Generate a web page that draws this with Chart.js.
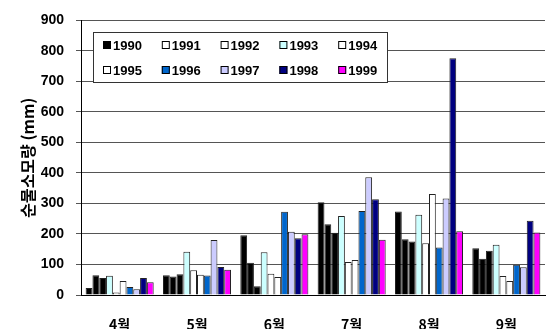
<!DOCTYPE html>
<html>
<head>
<meta charset="utf-8">
<script src="https://cdn.jsdelivr.net/npm/chart.js@4/dist/chart.umd.min.js"></script>
<style>
  body { margin: 0; background: #fff; }
</style>
</head>
<body>
<canvas id="rainChart" width="547" height="329"></canvas>
<script>
const months = ['4월', '5월', '6월', '7월', '8월', '9월'];
const years = ['1990', '1991', '1992', '1993', '1994', '1995', '1996', '1997', '1998', '1999'];

// one array per year, values for Apr..Sep (mm)
const y1990 = [23, 65, 196, 304, 274, 153];
const y1991 = [65, 61, 106, 232, 183, 119];
const y1992 = [56, 68, 29, 204, 175, 145];
const y1993 = [63, 142, 140, 259, 263, 165];
const y1994 = [8, 81, 70, 108, 170, 62];
const y1995 = [46, 66, 59, 115, 331, 46];
const y1996 = [26, 64, 273, 275, 156, 99];
const y1997 = [19, 180, 207, 386, 316, 91];
const y1998 = [56, 92, 186, 314, 776, 243];
const y1999 = [42, 83, 199, 181, 209, 205];

const yTicks = [0, 100, 200, 300, 400, 500, 600, 700, 800, 900];

const barColors = ['#000000', '#000000', '#000000', '#CCFFFF', '#FFFFFF', '#FFFFFF', '#0066CC', '#CCCCFF', '#000080', '#FF00FF'];
const legendColors = ['#000000', '#FFFFFF', '#FFFFFF', '#CCFFFF', '#FFFFFF', '#FFFFFF', '#0066CC', '#CCCCFF', '#000080', '#FF00FF'];

const series = [y1990, y1991, y1992, y1993, y1994, y1995, y1996, y1997, y1998, y1999];

// legend box drawn inside the plot like the original
const boxLegend = {
  id: 'boxLegend',
  afterDraw(chart) {
    const c = chart.ctx;
    const x0 = 93, y0 = 32, w = 294, h = 50;
    c.save();
    c.fillStyle = '#fff';
    c.fillRect(x0, y0, w, h);
    c.strokeStyle = '#333';
    c.lineWidth = 1;
    c.strokeRect(x0 + 0.5, y0 + 0.5, w, h);
    c.font = 'bold 13px "Liberation Sans", Arial, sans-serif';
    c.textBaseline = 'middle';
    years.forEach((yr, i) => {
      const col = i % 5, row = Math.floor(i / 5);
      const sx = 103 + col * 58.8, sy = (row === 0 ? 45 : 70);
      c.fillStyle = legendColors[i];
      c.fillRect(sx, sy - 4, 8, 8);
      c.strokeStyle = '#000';
      c.strokeRect(sx + 0.5, sy - 3.5, 7, 7);
      c.fillStyle = '#000';
      c.fillText(yr, sx + 10, sy + 1);
    });
    c.restore();
  }
};

const ctx = document.getElementById('rainChart');
new Chart(ctx, {
  type: 'bar',
  data: {
    labels: months,
    datasets: years.map((yr, i) => ({
      label: yr,
      data: series[i],
      backgroundColor: barColors[i],
      borderColor: '#222',
      borderWidth: 1,
      barPercentage: 1,
      categoryPercentage: 0.88
    }))
  },
  options: {
    responsive: false,
    animation: false,
    layout: { padding: { top: 15, right: 2, left: 18, bottom: 0 } },
    plugins: {
      legend: { display: false },
      tooltip: { enabled: false }
    },
    scales: {
      x: {
        grid: { display: false },
        border: { color: '#000', width: 1 },
        ticks: {
          color: '#000',
          padding: 13,
          font: { size: 14, weight: 'bold', family: '"Noto Sans CJK KR", sans-serif' }
        },
        afterFit: (scale) => { scale.height = 34; }
      },
      y: {
        min: 0,
        max: 900,
        afterBuildTicks: (scale) => { scale.ticks = yTicks.map(v => ({ value: v })); },
        grid: { color: '#555', tickLength: 5 },
        border: { color: '#000', width: 1 },
        ticks: {
          color: '#000',
          padding: 12,
          font: { size: 14, weight: 'bold', family: '"Liberation Sans", Arial, sans-serif' }
        },
        title: {
          display: true,
          text: '순물소모량 (mm)',
          color: '#000',
          padding: 0,
          font: { size: 16, weight: 'bold', family: '"Noto Sans CJK KR", sans-serif' }
        },
        afterFit: (scale) => { scale.width = 63; }
      }
    }
  },
  plugins: [boxLegend]
});
</script>
</body>
</html>
